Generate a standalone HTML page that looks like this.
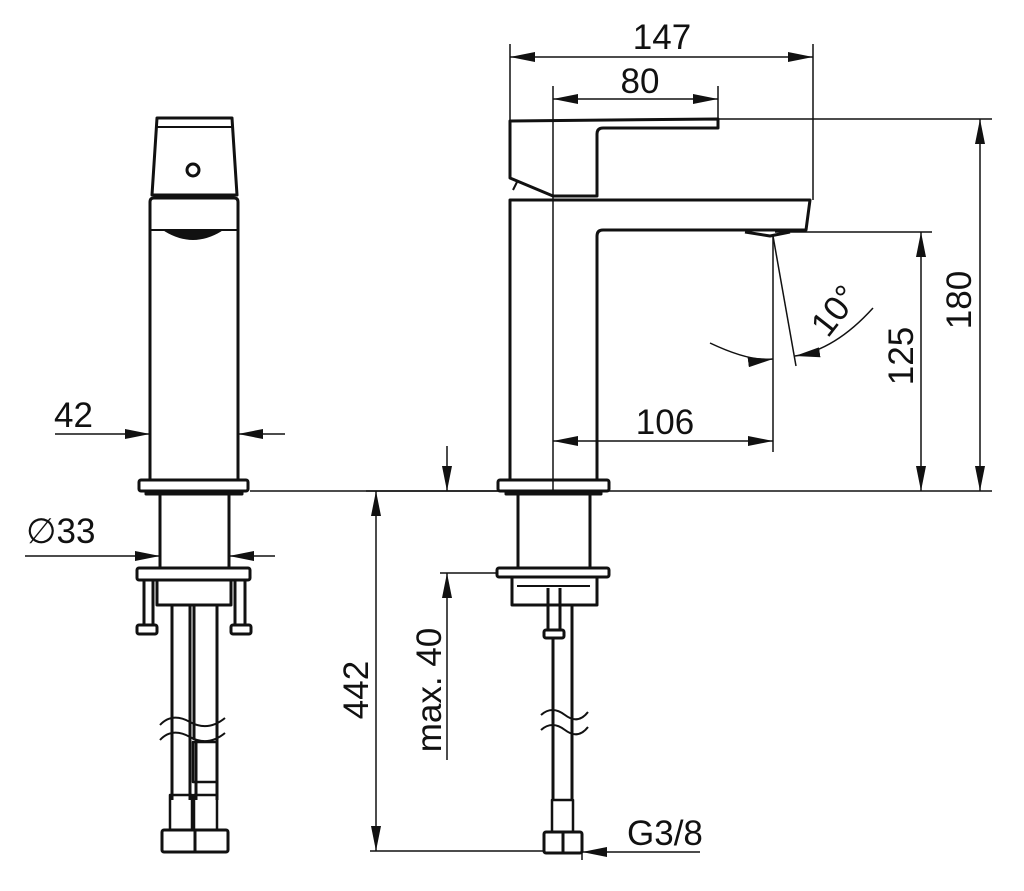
<!DOCTYPE html>
<html><head><meta charset="utf-8"><style>
html,body{margin:0;padding:0;background:#fff;}
svg{display:block;}
text{font-family:"Liberation Sans",sans-serif;fill:#111;}
</style></head><body>
<svg width="1024" height="891" viewBox="0 0 1024 891" xmlns="http://www.w3.org/2000/svg">
<defs>
<marker id="a" markerWidth="26" markerHeight="10" refX="25" refY="5" orient="auto" markerUnits="userSpaceOnUse"><path d="M0,0 L25,5 L0,10 Z" fill="#111"/></marker>
</defs>
<g fill="none" stroke="#111" stroke-width="3" stroke-linejoin="round">
<path d="M157,118 L232,118 L237,195 L152,195 Z"/>
<line x1="157" y1="127" x2="232" y2="127" stroke-width="2"/>
<circle cx="193" cy="170" r="6"/>
<path d="M150,480 L150,202 Q150,198 154,198 L234,198 Q238,198 238,202 L238,480"/>
<line x1="150" y1="230" x2="238" y2="230" stroke-width="2"/>
<path d="M165,231 Q193,248 221,231 Z" fill="#111" stroke-width="1"/>
<rect x="139" y="480" width="109" height="11" rx="2"/>
<rect x="146" y="491" width="96" height="3" fill="#111"/>
<line x1="160" y1="494" x2="160" y2="568"/><line x1="229" y1="494" x2="229" y2="568"/>
<rect x="137" y="568" width="113" height="12" rx="2"/>
<rect x="157" y="580" width="74" height="25"/>
<path d="M144,580 V625 M153,580 V625"/><rect x="137" y="625" width="20" height="9" rx="2"/>
<path d="M235,580 V625 M245,580 V625"/><rect x="231" y="625" width="20" height="9" rx="2"/>
<path d="M172,605 V800 M190,605 V800 M194,605 V740 M196,740 V800 M217,605 V800"/>
<rect x="193" y="742" width="24" height="40" stroke-width="2.5"/>
<rect x="170" y="795" width="22" height="35" stroke-width="2.5"/>
<rect x="194" y="795" width="23" height="35" stroke-width="2.5"/>
<rect x="162" y="830" width="66" height="22" rx="2"/>
<line x1="195" y1="830" x2="195" y2="852"/>
<path d="M160,725 Q172,712 190,722 T225,718 M160,740 Q172,727 190,737 T225,733" stroke-width="2"/>
<path d="M510,480 V200 L810,200 L806,230 L603,230 Q597,230 597,236 V480"/>
<path d="M510,178 V121 L718,119 V128 L603,128 Q597,128 597,134 V196 L553,196 Z"/>
<path d="M513,190 L518,180" stroke-width="2"/>
<path d="M745,232 L770,236 L790,232" stroke-width="3"/>
<rect x="498" y="480" width="111" height="11" rx="2"/>
<rect x="506" y="491" width="95" height="3" fill="#111"/>
<line x1="518" y1="494" x2="518" y2="568"/><line x1="590" y1="494" x2="590" y2="568"/>
<rect x="497" y="568" width="112" height="9" rx="2"/>
<path d="M512,577 V605 H597 V577"/>
<line x1="517" y1="586" x2="590" y2="586" stroke-width="2"/>
<path d="M548,588 V630 M560,588 V630"/><rect x="544" y="630" width="20" height="8" rx="2"/>
<path d="M553,638 V800 M572,605 V800"/>
<rect x="552" y="800" width="21" height="32" stroke-width="2.5"/>
<rect x="544" y="832" width="38" height="21" rx="2"/>
<line x1="563" y1="832" x2="563" y2="853"/>
<path d="M541,715 Q552,705 565,715 T588,712 M541,730 Q552,720 565,730 T588,727" stroke-width="2"/>
</g>
<g fill="none" stroke="#111" stroke-width="1.5">
<line x1="55" y1="434" x2="150" y2="434" marker-end="url(#a)"/>
<line x1="285" y1="434" x2="238" y2="434" marker-end="url(#a)"/>
<line x1="25" y1="556" x2="160" y2="556" marker-end="url(#a)"/>
<line x1="275" y1="556" x2="229" y2="556" marker-end="url(#a)"/>
<line x1="510" y1="44" x2="510" y2="121"/><line x1="813" y1="44" x2="813" y2="200"/>
<line x1="553" y1="86" x2="553" y2="491"/><line x1="718" y1="86" x2="718" y2="119"/>
<line x1="660" y1="57" x2="510" y2="57" marker-end="url(#a)"/>
<line x1="660" y1="57" x2="813" y2="57" marker-end="url(#a)"/>
<line x1="640" y1="99" x2="553" y2="99" marker-end="url(#a)"/>
<line x1="640" y1="99" x2="718" y2="99" marker-end="url(#a)"/>
<line x1="718" y1="119" x2="992" y2="119"/>
<line x1="250" y1="491" x2="992" y2="491"/>
<line x1="980" y1="300" x2="980" y2="119" marker-end="url(#a)"/>
<line x1="980" y1="300" x2="980" y2="491" marker-end="url(#a)"/>
<line x1="775" y1="232" x2="932" y2="232"/>
<line x1="921" y1="360" x2="921" y2="232" marker-end="url(#a)"/>
<line x1="921" y1="360" x2="921" y2="491" marker-end="url(#a)"/>
<line x1="773" y1="236" x2="773" y2="452"/>
<line x1="773" y1="236" x2="796" y2="366"/>
<line x1="665" y1="441" x2="553" y2="441" marker-end="url(#a)"/>
<line x1="665" y1="441" x2="773" y2="441" marker-end="url(#a)"/>
<path d="M710,343 Q750,362 773,359" marker-end="url(#a)"/>
<path d="M873,308 Q835,350 795,356" marker-end="url(#a)"/>
<line x1="366" y1="491" x2="510" y2="491"/>
<line x1="376" y1="680" x2="376" y2="491" marker-end="url(#a)"/>
<line x1="376" y1="680" x2="376" y2="851" marker-end="url(#a)"/>
<line x1="370" y1="851" x2="545" y2="851"/>
<line x1="700" y1="852" x2="582" y2="852" marker-end="url(#a)"/>
<line x1="582" y1="840" x2="582" y2="860"/>
<line x1="447" y1="446" x2="447" y2="491" marker-end="url(#a)"/>
<line x1="447" y1="640" x2="447" y2="573" marker-end="url(#a)"/>
<line x1="440" y1="573" x2="498" y2="573"/>
<line x1="447" y1="640" x2="447" y2="760"/>
</g>
<g font-size="35">
<text x="54" y="427">42</text>
<text x="26" y="543">∅33</text>
<text x="662" y="49" text-anchor="middle">147</text>
<text x="640" y="93" text-anchor="middle">80</text>
<text x="665" y="434" text-anchor="middle">106</text>
<text x="627" y="845">G3/8</text>
<text transform="translate(971,300) rotate(-90)" text-anchor="middle">180</text>
<text transform="translate(913,356) rotate(-90)" text-anchor="middle">125</text>
<text transform="translate(368,690) rotate(-90)" text-anchor="middle">442</text>
<text transform="translate(441,690) rotate(-90)" text-anchor="middle">max. 40</text>
<text transform="translate(844,318) rotate(-52)" text-anchor="middle">10°</text>
</g>
</svg>
</body></html>
